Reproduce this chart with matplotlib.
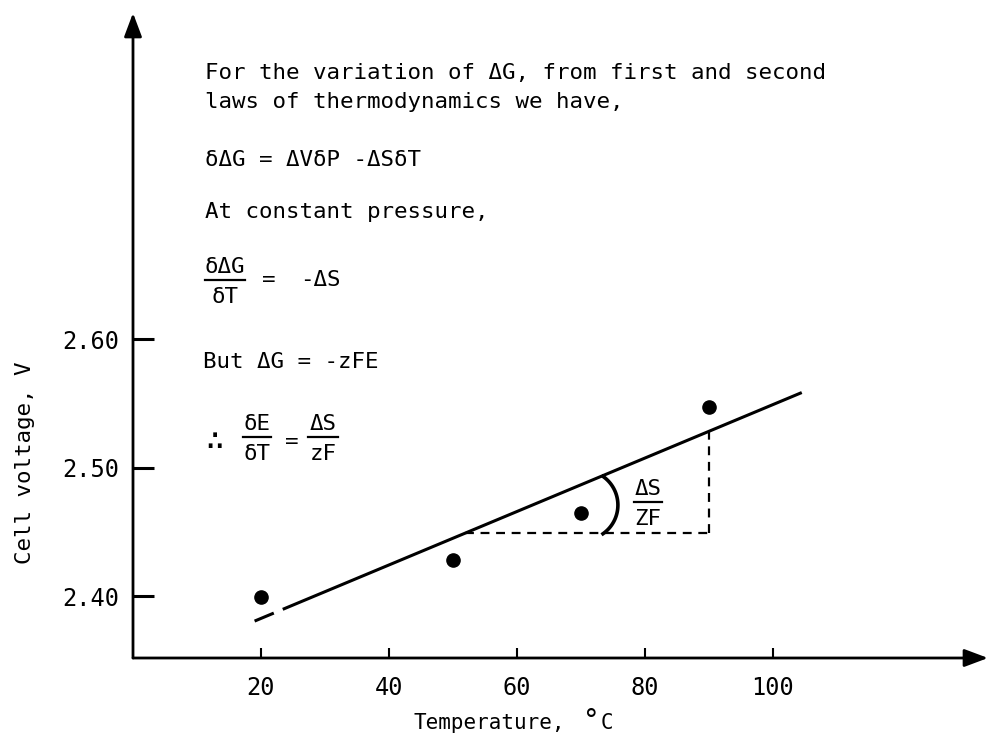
import numpy as np
import matplotlib
matplotlib.use("Agg")
import matplotlib.pyplot as plt
from matplotlib.lines import Line2D

W, H = 989, 738

# measured cell voltage vs temperature
temperature = [20, 50, 70, 90]
cell_voltage = [2.399, 2.428, 2.465, 2.547]

# straight-line fit drawn through the points
fit_intercept = 2.341
fit_slope = 0.00208
fit_start, fit_end = 19.0, 104.5
fit_gap = (22.0, 23.4)

x_ticks = [20, 40, 60, 80, 100]
x_tick_labels = ["20", "40", "60", "80", "100"]
y_ticks = [2.40, 2.50, 2.60]
y_tick_labels = ["2.40", "2.50", "2.60"]

# horizontal leg of the slope triangle
step_level = 2.449

FONT = ["DejaVu Sans Mono", "DejaVu Sans"]
plt.rcParams["font.family"] = FONT
plt.rcParams["font.size"] = 16.2


def fit(x):
    return fit_intercept + fit_slope * np.asarray(x)


fig = plt.figure(figsize=(W / 100, H / 100), dpi=100)
ax = fig.add_axes([133 / W, 80 / H, (988 - 133) / W, (658 - 13) / H])
ax.set_xlim(0, 133.6)
ax.set_ylim(2.3518, 2.8537)
for sp in ax.spines.values():
    sp.set_visible(False)

# axes drawn as arrows
arrow = dict(arrowstyle="-|>,head_length=0.8,head_width=0.3", color="black",
             lw=2, shrinkA=0, shrinkB=0, mutation_scale=18)
ax.annotate("", xy=(1, 0), xytext=(0, 0), xycoords="axes fraction",
            arrowprops=arrow, annotation_clip=False)
ax.annotate("", xy=(0, 1), xytext=(0, 0), xycoords="axes fraction",
            arrowprops=arrow, annotation_clip=False)

ax.set_xticks(x_ticks)
ax.set_xticklabels(x_tick_labels)
ax.set_yticks(y_ticks)
ax.set_yticklabels(y_tick_labels)
ax.tick_params(axis="x", direction="in", length=7, width=1.5, pad=13, labelsize=17)
ax.tick_params(axis="y", direction="in", length=15, width=2.2, pad=10, labelsize=17)

# fitted line, with a small break near the left end
for x0, x1 in [(fit_start, fit_gap[0]), (fit_gap[1], fit_end)]:
    ax.plot([x0, x1], fit([x0, x1]), color="black", lw=2.2, solid_capstyle="butt")

ax.plot(temperature, cell_voltage, "o", color="black", ms=9.5)

# slope triangle
x_left = (step_level - fit_intercept) / fit_slope
x_right = temperature[-1]
dash = (0, (4, 3))
ax.plot([x_left, x_right], [step_level, step_level], color="black", lw=1.6, ls=dash)
ax.plot([x_right, x_right], [step_level, float(fit(x_right))], color="black", lw=1.6, ls=dash)

# angle mark
arc_c = ax.transData.transform((70.3, 2.4708))
t = np.radians(np.linspace(-55, 55, 60))
arc_px = arc_c + 35 * np.c_[np.cos(t), np.sin(t)]
arc = ax.transData.inverted().transform(arc_px)
ax.plot(arc[:, 0], arc[:, 1], color="black", lw=2.6)


def ftext(x, y, s, **kw):
    fig.text(x / W, 1 - y / H, s, va="baseline", **kw)


def fbar(x0, x1, y, lw=1.6):
    fig.add_artist(Line2D([x0 / W, x1 / W], [1 - y / H] * 2, color="black", lw=lw))


def frac(xc, ybar, num, den, width):
    ftext(xc, ybar - 7, num, ha="center")
    fbar(xc - width / 2, xc + width / 2, ybar)
    ftext(xc, ybar + 23, den, ha="center")


# derivation text
ftext(205, 79, "For the variation of ΔG, from first and second")
ftext(205, 108, "laws of thermodynamics we have,")
ftext(205, 166, "δΔG = ΔVδP -ΔSδT")
ftext(205, 218, "At constant pressure,")
frac(225, 280, "δΔG", "δT", 40)
ftext(262, 286, "=")
ftext(300, 286, "-ΔS")
ftext(203, 368, "But ΔG = -zFE")
ftext(205, 450, "∴", fontsize=22)
frac(257, 437, "δE", "δT", 28)
ftext(285, 448, "=")
frac(323, 437, "ΔS", "zF", 30)

# slope label beside the triangle
lab = ax.transData.transform((80.5, 2.4732))
frac(lab[0], H - lab[1], "ΔS", "ZF", 28)

# axis titles
fig.text(25 / W, 1 - 463 / H, "Cell voltage, V", rotation=90, ha="center", va="center")
ftext(413, 729, "Temperature,", fontsize=15)
ftext(583, 729, "°", fontsize=20)
ftext(601, 729, "C", fontsize=15)

fig.savefig("out.png", dpi=100)
